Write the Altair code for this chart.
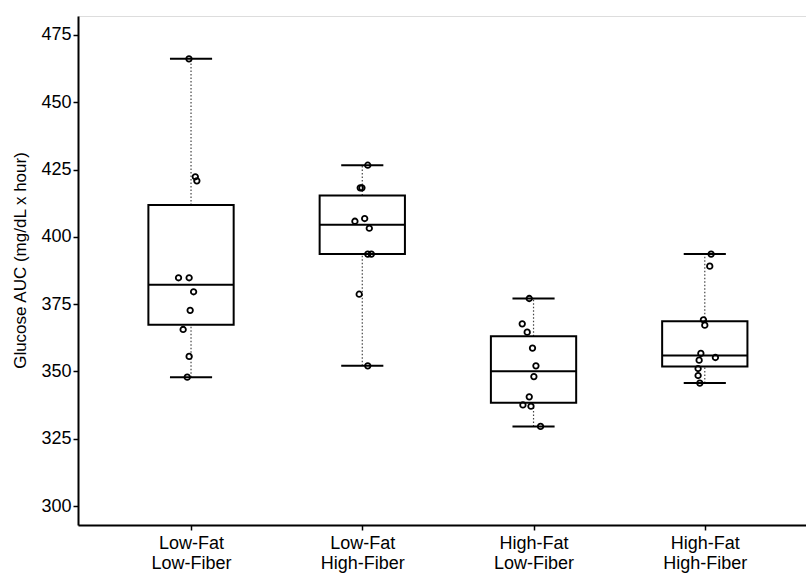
import altair as alt
import pandas as pd

# ---- data ----
fat_labels = ["Low-Fat", "Low-Fat", "High-Fat", "High-Fat"]
fiber_labels = ["Low-Fiber", "High-Fiber", "Low-Fiber", "High-Fiber"]

lf_lfib = [466.1, 422.3, 420.8, 384.8, 384.8, 379.6, 372.7, 365.6, 355.6, 347.9]
lf_hfib = [426.6, 418.2, 418.2, 406.8, 405.8, 403.2, 393.6, 393.6, 378.7, 352.1]
hf_lfib = [377.1, 367.7, 364.6, 358.7, 352.1, 348.1, 340.6, 337.6, 337.1, 329.6]
hf_hfib = [393.6, 389.1, 369.2, 367.2, 356.7, 355.2, 354.2, 351.1, 348.5, 345.7]

# horizontal jitter of each point (in group units)
jit_lf_lfib = [-0.012, 0.025, 0.034, -0.073, -0.011, 0.015, -0.005, -0.046, -0.011, -0.022]
jit_lf_hfib = [0.032, -0.012, -0.002, 0.014, -0.043, 0.041, 0.032, 0.053, -0.018, 0.032]
jit_hf_lfib = [-0.025, -0.066, -0.037, -0.006, 0.014, 0.002, -0.025, -0.062, -0.015, 0.041]
jit_hf_hfib = [0.037, 0.029, -0.008, 0.0, -0.023, 0.062, -0.033, -0.039, -0.039, -0.029]

y_ticks = [300, 325, 350, 375, 400, 425, 450, 475]

all_values = [lf_lfib, lf_hfib, hf_lfib, hf_hfib]
all_jitter = [jit_lf_lfib, jit_lf_hfib, jit_hf_lfib, jit_hf_hfib]

rows = []
for i, (vals, jits) in enumerate(zip(all_values, all_jitter)):
    for v, j in zip(vals, jits):
        rows.append({"pos": i + 1, "value": v, "jitter": j})
df = pd.DataFrame(rows)

FONT = "Liberation Sans"

label_expr = ""
for i in range(len(fat_labels)):
    label_expr += f"datum.value == {i + 1} ? ['{fat_labels[i]}', '{fiber_labels[i]}'] : "
label_expr += "''"

xs = alt.Scale(domain=[0.34, 4.591], nice=False, zero=False)
ys = alt.Scale(domain=[293, 482], nice=False, zero=False)

x_axis = alt.Axis(
    values=[1, 2, 3, 4], labelExpr=label_expr, title=None, grid=False,
    domainWidth=2, domainColor="black", tickColor="black", tickWidth=1.5, tickSize=5,
    labelFontSize=18, labelColor="black", labelLineHeight=20, labelPadding=4, labelFont=FONT,
)
y_axis = alt.Axis(
    values=y_ticks, title="Glucose AUC (mg/dL x hour)", grid=False,
    domainWidth=2, domainColor="black", tickColor="black", tickWidth=1.5, tickSize=5,
    labelFontSize=18, labelColor="black", labelPadding=2, labelFont=FONT,
    titleFontSize=17, titleFontWeight="normal", titleColor="black", titleFont=FONT,
    titlePadding=11, titleY=244,
)

base = alt.Chart(df)

stats = base.transform_aggregate(
    q1="q1(value)", med="median(value)", q3="q3(value)",
    lo="min(value)", hi="max(value)", groupby=["pos"],
).transform_calculate(
    bl="datum.pos - 0.249", br="datum.pos + 0.249",
    cl="datum.pos - 0.123", cr="datum.pos + 0.123",
)

whisk_lo = stats.mark_rule(strokeDash=[1.5, 2], color="#444", strokeWidth=1.2).encode(
    x=alt.X("pos:Q", scale=xs, axis=x_axis),
    y=alt.Y("lo:Q", scale=ys, axis=y_axis),
    y2="q1:Q",
)
whisk_hi = stats.mark_rule(strokeDash=[1.5, 2], color="#444", strokeWidth=1.2).encode(
    x=alt.X("pos:Q", scale=xs, axis=x_axis),
    y=alt.Y("q3:Q", scale=ys, axis=y_axis),
    y2="hi:Q",
)
box = stats.mark_rect(fill="white", stroke="black", strokeWidth=2).encode(
    x=alt.X("bl:Q", scale=xs, axis=x_axis),
    x2="br:Q",
    y=alt.Y("q1:Q", scale=ys, axis=y_axis),
    y2="q3:Q",
)
median = stats.mark_rule(color="black", strokeWidth=2).encode(
    x=alt.X("bl:Q", scale=xs, axis=x_axis),
    x2="br:Q",
    y=alt.Y("med:Q", scale=ys, axis=y_axis),
)
cap_lo = stats.mark_rule(color="black", strokeWidth=2).encode(
    x=alt.X("cl:Q", scale=xs, axis=x_axis),
    x2="cr:Q",
    y=alt.Y("lo:Q", scale=ys, axis=y_axis),
)
cap_hi = stats.mark_rule(color="black", strokeWidth=2).encode(
    x=alt.X("cl:Q", scale=xs, axis=x_axis),
    x2="cr:Q",
    y=alt.Y("hi:Q", scale=ys, axis=y_axis),
)
points = base.transform_calculate(xj="datum.pos + datum.jitter").mark_point(
    shape="circle", filled=False, color="black", size=30, strokeWidth=1.8, opacity=1
).encode(
    x=alt.X("xj:Q", scale=xs, axis=x_axis),
    y=alt.Y("value:Q", scale=ys, axis=y_axis),
)

chart = alt.layer(whisk_lo, whisk_hi, box, median, cap_lo, cap_hi, points).properties(
    width=728, height=509,
    padding={"left": 78, "top": 16, "right": 0, "bottom": 48},
    autosize="none",
    background="white",
).configure_view(stroke=None).configure(font=FONT)

chart.save("out.html", embed_options={"renderer": "svg", "actions": False})
